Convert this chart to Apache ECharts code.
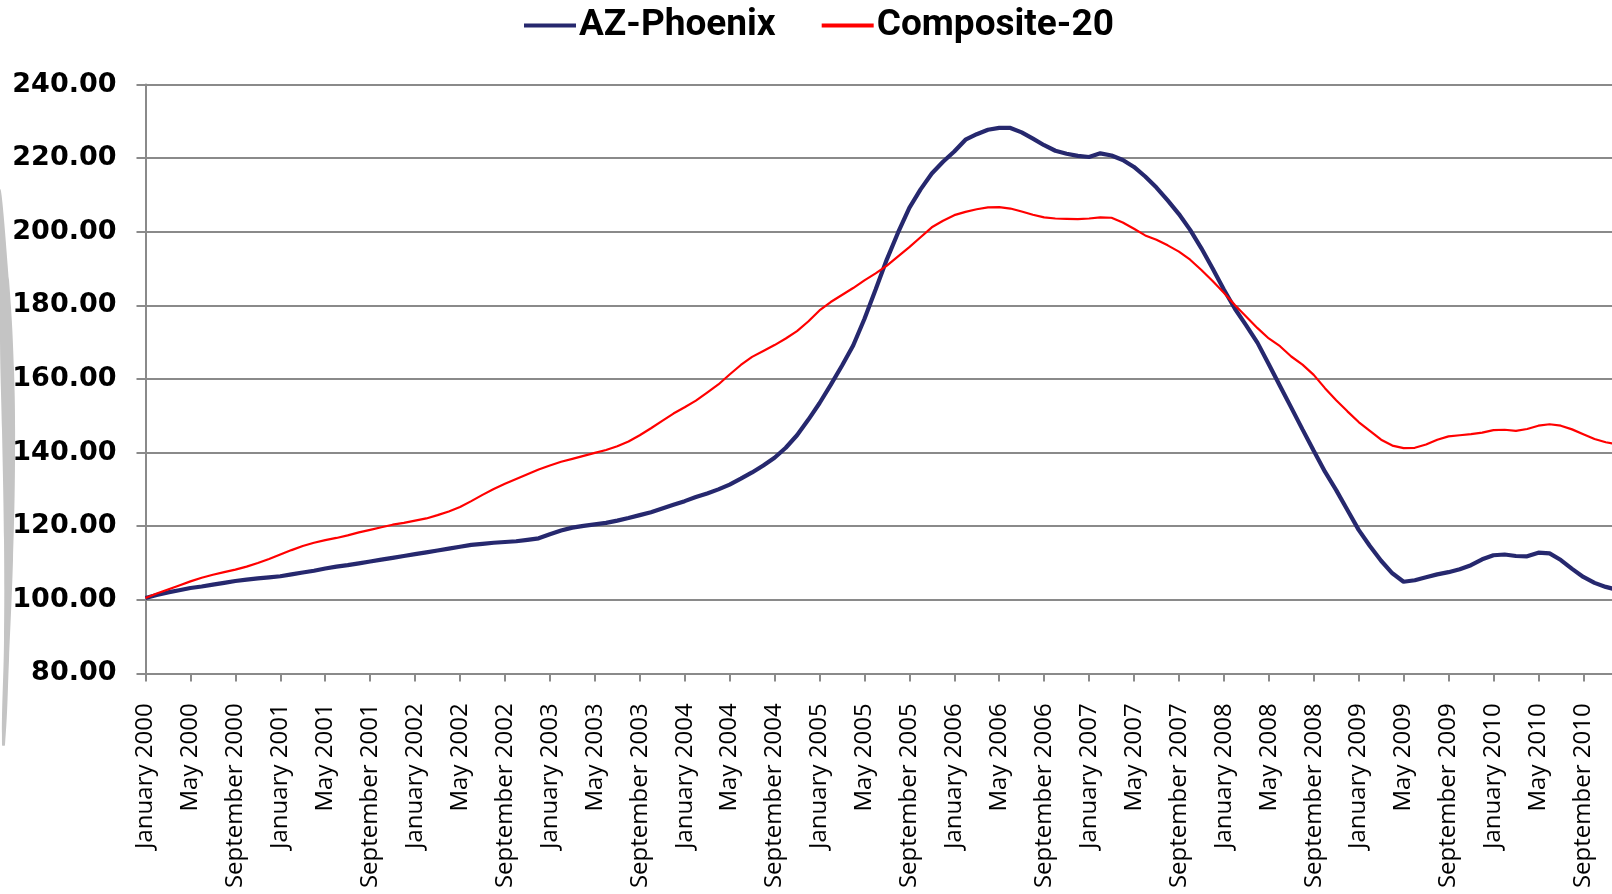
<!DOCTYPE html>
<html>
  <head>
    <meta charset="utf-8">
    <title>AZ-Phoenix vs Composite-20</title>
    <script src="https://cdn.jsdelivr.net/npm/echarts@6/dist/echarts.min.js"></script>
    <style>
      html, body {
        margin: 0;
        padding: 0;
        background: #fff;
      }
      #chart {
        width: 1612px;
        height: 894px;
      }
    </style>
  </head>
  <body>
    <div id="chart"></div>
    <script>
      // Categories: one per month, January 2000 onwards
      var MONTHS = ['January', 'February', 'March', 'April', 'May', 'June',
        'July', 'August', 'September', 'October', 'November', 'December'];
      var YEARS = [2000, 2001, 2002, 2003, 2004, 2005, 2006, 2007, 2008, 2009, 2010];

      // Index values
      var phoenix = [
        100.5, 101.3, 102.0, 102.6, 103.2, 103.6, 104.1, 104.6, 105.1, 105.5, 105.8, 106.1,
        106.4, 106.9, 107.4, 107.9, 108.5, 109.0, 109.4, 109.9, 110.4, 110.9, 111.4, 111.9,
        112.4, 112.9, 113.4, 113.9, 114.4, 114.9, 115.2, 115.5, 115.7, 115.9, 116.3, 116.7,
        117.8, 118.8, 119.6, 120.1, 120.5, 120.9, 121.5, 122.2, 123.0, 123.8, 124.8, 125.8,
        126.8, 127.9, 128.9, 130.0, 131.3, 132.9, 134.6, 136.5, 138.6, 141.3, 144.7, 148.9,
        153.4, 158.4, 163.6, 169.1, 176.3, 184.3, 192.5, 199.8, 206.5, 211.5, 215.8, 219.0,
        221.8, 225.0, 226.5, 227.7, 228.2, 228.2, 227.0, 225.3, 223.5, 222.0, 221.2, 220.6,
        220.3, 221.3, 220.7, 219.5, 217.6, 215.0, 212.0, 208.5, 204.8, 200.5, 195.5, 190.0,
        184.3, 179.0, 174.5, 169.8, 164.0, 158.1, 152.2, 146.3, 140.5, 134.8, 129.8, 124.4,
        119.0, 114.6, 110.6, 107.2, 104.9, 105.3, 106.1, 106.9, 107.5, 108.3, 109.4, 111.0,
        112.1, 112.3, 111.9, 111.8, 112.8, 112.6, 110.8, 108.4, 106.2, 104.6, 103.5, 102.7
      ];
      var composite20 = [
        100.5, 101.7, 102.8, 103.9, 105.0, 106.0, 106.8, 107.5, 108.2, 109.0, 110.0, 111.1,
        112.3, 113.5, 114.6, 115.5, 116.2, 116.8, 117.5, 118.3, 119.0, 119.7, 120.4, 120.9,
        121.5, 122.1, 123.0, 124.0, 125.2, 126.8, 128.5, 130.1, 131.5, 132.8, 134.1, 135.4,
        136.5, 137.5, 138.3, 139.1, 139.9, 140.7, 141.7, 143.0, 144.7, 146.6, 148.6, 150.6,
        152.3, 154.1, 156.3, 158.5, 161.2, 163.8, 166.0, 167.6, 169.2, 171.0, 173.0, 175.6,
        178.6, 180.9, 182.8, 184.7, 186.8, 188.7, 190.8, 193.3, 195.8, 198.5, 201.2, 203.0,
        204.5, 205.4, 206.1, 206.6, 206.7, 206.3, 205.5, 204.6, 203.9, 203.6, 203.5, 203.4,
        203.6, 203.9, 203.8, 202.5, 200.8, 199.0, 197.8, 196.3, 194.6, 192.4, 189.6, 186.6,
        183.4, 180.0, 176.9, 173.8, 171.0, 168.9, 166.1, 163.9, 161.1, 157.5, 154.2, 151.2,
        148.3, 145.9, 143.5, 141.9, 141.2, 141.3, 142.2, 143.5, 144.4, 144.7, 145.0, 145.4,
        146.1, 146.2, 145.9, 146.4, 147.3, 147.7, 147.3, 146.3, 145.0, 143.7, 142.8, 142.2
      ];

      var categories = [];
      YEARS.forEach(function(y) {
        MONTHS.forEach(function(m) {
          categories.push(m + ' ' + y);
        });
      });

      var GRAY = '#8a8a8a';
      var chart = echarts.init(document.getElementById('chart'));
      chart.setOption({
        animation: false,
        backgroundColor: '#fff',
        // light gray crescent at the left edge of the slide
        graphic: [{
          type: 'polygon',
          shape: {
            points: [[0, 190], [9, 280], [14, 370], [15, 460], [13, 560], [9, 660], [5, 745],
              [2, 745], [4, 640], [4, 540], [2, 430], [0, 340]],
            smooth: 0.4
          },
          style: { fill: '#c4c4c4' },
          z: -1
        }],
        legend: {
          left: 519,
          top: 2,
          icon: 'rect',
          itemWidth: 52,
          itemHeight: 4,
          itemGap: 46,
          textStyle: {
            fontFamily: 'Roboto',
            fontWeight: 'bold',
            fontSize: 37,
            color: '#000',
            padding: [0, 0, 0, -2]
          },
          data: ['AZ-Phoenix', 'Composite-20']
        },
        grid: {
          left: 145.5,
          right: -5,
          top: 84.5,
          bottom: 220.6,
          outerBoundsMode: 'none'
        },
        xAxis: {
          type: 'category',
          data: categories,
          boundaryGap: false,
          axisLine: { lineStyle: { color: GRAY, width: 2 } },
          axisTick: {
            interval: 3,
            length: 8,
            lineStyle: { color: GRAY, width: 2 }
          },
          axisLabel: {
            interval: 3,
            rotate: 90,
            margin: 30,
            fontFamily: 'Open Sans',
            fontSize: 24,
            color: '#000'
          }
        },
        yAxis: {
          type: 'value',
          min: 80,
          max: 240,
          interval: 20,
          axisLine: { show: true, lineStyle: { color: GRAY, width: 2 } },
          axisTick: { show: true, length: 9, lineStyle: { color: GRAY, width: 2 } },
          splitLine: { lineStyle: { color: GRAY, width: 2 } },
          axisLabel: {
            margin: 29,
            fontFamily: 'DejaVu Sans',
            fontWeight: 'bold',
            fontSize: 27,
            color: '#000',
            formatter: function(v) { return v.toFixed(2); }
          }
        },
        series: [
          {
            name: 'AZ-Phoenix',
            type: 'line',
            data: phoenix,
            symbol: 'none',
            lineStyle: { color: '#26286e', width: 4.2 },
            itemStyle: { color: '#26286e' }
          },
          {
            name: 'Composite-20',
            type: 'line',
            data: composite20,
            symbol: 'none',
            lineStyle: { color: '#ff0000', width: 2.2 },
            itemStyle: { color: '#ff0000' }
          }
        ]
      });
    </script>
  </body>
</html>
